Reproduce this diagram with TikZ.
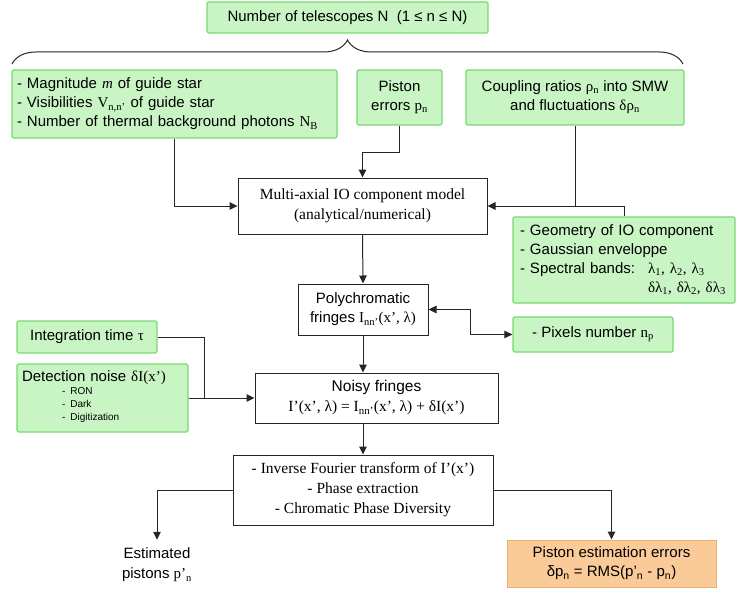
\documentclass[tikz,border=0pt]{standalone}
\usepackage{fontspec}
\setmainfont{Liberation Serif}
\setsansfont{Liberation Sans}
\usepackage{xcolor}
\usepackage{tikz}
\usetikzlibrary{arrows.meta,calc,decorations.pathreplacing}

\definecolor{inputfill}{RGB}{200,245,195}
\definecolor{inputline}{RGB}{120,218,112}
\definecolor{resultfill}{RGB}{250,202,152}
\definecolor{resultline}{RGB}{232,178,112}

\tikzset{
  inputbox/.style={draw=inputline,fill=inputfill,line width=1.3pt,rounded corners=1.5pt,
    inner sep=0pt,font=\sffamily\fontsize{15}{19}\selectfont},
  modelbox/.style={draw=black!85,fill=white,line width=1pt,inner sep=0pt,
    font=\rmfamily\fontsize{15.5}{20}\selectfont,align=center},
  resultbox/.style={draw=resultline,fill=resultfill,line width=1pt,inner sep=0pt,
    font=\sffamily\fontsize{15}{19}\selectfont,align=center},
  flow/.style={draw=black!85,line width=1pt,-{Triangle[length=8pt,width=7.5pt]}},
}

\begin{document}
\begin{tikzpicture}[x=1pt,y=-1pt]
\useasboundingbox (0,0) rectangle (738,591);

% inputs
\node[inputbox,minimum width=281,minimum height=31,align=center] (nbtel) at (347.5,17.5)
  {Number of telescopes N\ \ (1 ≤ n ≤ N)};
\coordinate (braceL) at (12,64);
\coordinate (braceR) at (683,64);
\draw[black!85,line width=1pt,decorate,decoration={brace,amplitude=24pt,aspect=0.5}]
  (braceL) -- (braceR);

\node[inputbox,minimum width=325,minimum height=68,text width=315,align=left] (guide) at (174.5,104)
  {- Magnitude \textit{\rmfamily m} of guide star\\
   - Visibilities {\rmfamily V\textsubscript{n,n’}} of guide star\\
   - Number of thermal background photons {\rmfamily N\textsubscript{B}}};
\node[inputbox,minimum width=85,minimum height=55,align=center] (piston) at (399.5,97.5)
  {Piston\\errors {\rmfamily p\textsubscript{n}}};
\node[inputbox,minimum width=218,minimum height=55,align=center] (coupling) at (575,97.5)
  {Coupling ratios {\rmfamily ρ\textsubscript{n}} into SMW\\and fluctuations {\rmfamily δρ\textsubscript{n}}};

% model
\node[modelbox,minimum width=249,minimum height=56] (multi) at (362.5,206)
  {Multi-axial IO component model\\(analytical/numerical)};
\node[inputbox,minimum width=222,minimum height=86,text width=208,align=left] (geom) at (624,260)
  {- Geometry of IO component\\
   - Gaussian enveloppe\\
   \makebox[128pt][l]{- Spectral bands:}{\rmfamily λ\textsubscript{1}, λ\textsubscript{2}, λ\textsubscript{3}}\\
   \hspace*{128pt}{\rmfamily δλ\textsubscript{1}, δλ\textsubscript{2}, δλ\textsubscript{3}}};

\node[modelbox,font=\sffamily\fontsize{15}{19}\selectfont,minimum width=130,minimum height=51] (poly) at (363,309.5)
  {Polychromatic\\fringes {\rmfamily I\textsubscript{nn’}(x’, λ)}};
\node[inputbox,minimum width=160,minimum height=35,align=center] (pixels) at (593,334.5)
  {- Pixels number {\rmfamily n\textsubscript{p}}};

% detection
\node[inputbox,minimum width=140,minimum height=32,align=center] (integ) at (87,337)
  {Integration time {\rmfamily τ}};
\node[inputbox,minimum width=171,minimum height=68,text width=161,align=left] (detect) at (102.5,398)
  {Detection noise {\rmfamily δI(x’)}\\[-6pt]
   \hspace*{40pt}{\fontsize{10}{13}\selectfont
   \begin{tabular}[t]{@{}l@{}}- RON\\- Dark\\- Digitization\end{tabular}}};
\node[modelbox,minimum width=243,minimum height=50] (noisy) at (376.5,398)
  {{\sffamily Noisy fringes}\\I’(x’, λ) = I\textsubscript{nn’}(x’, λ) + δI(x’)};
\coordinate (join) at (204,398);

% estimation
\node[modelbox,minimum width=260,minimum height=70] (inverse) at (363,490)
  {- Inverse Fourier transform of I’(x’)\\- Phase extraction\\- Chromatic Phase Diversity};
\node[inner sep=0pt,align=center,font=\sffamily\fontsize{15}{20}\selectfont] (estim) at (157,565)
  {Estimated\\pistons {\rmfamily p’\textsubscript{n}}};
\node[resultbox,minimum width=209,minimum height=47] (errors) at (611.5,563.5)
  {Piston estimation errors\\δp\textsubscript{n} = RMS(p’\textsubscript{n} - p\textsubscript{n})};

% connectors
\draw[flow] (guide.south) |- (multi.west);
\draw[flow] (piston.south) -- ++(0,27) -| (multi.north);
\draw[flow] (coupling.south) |- (multi.east);
\draw[draw=black!85,line width=1pt] (geom.north) |- (coupling.south |- multi.east);
\draw[flow] (multi.south) -- (poly.north);
\draw[flow,{Triangle[length=8pt,width=7.5pt]}-{Triangle[length=8pt,width=7.5pt]}]
  (poly.east) -- ++(42,0) |- (pixels.west);
\draw[flow] (poly.south) -- (poly.south |- noisy.north);
\draw[draw=black!85,line width=1pt] (integ.east) -| (join);
\draw[flow] (detect.east) -- (noisy.west);
\draw[flow] (inverse.north |- noisy.south) -- (inverse.north);
\draw[flow] (inverse.west) -| ($(estim.north)+(0,-8)$);
\draw[flow] (inverse.east) -| (errors.north);
\end{tikzpicture}
\end{document}
